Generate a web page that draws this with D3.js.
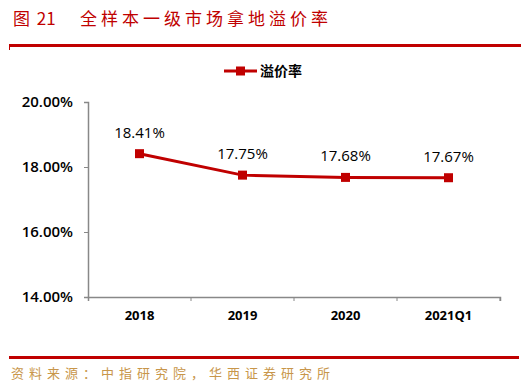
<!DOCTYPE html>
<html><head><meta charset="utf-8">
<script src="https://cdn.jsdelivr.net/npm/d3@7"></script>
<style>body{margin:0;background:#fff}svg{display:block}</style>
</head><body><svg id="c" width="521" height="385"></svg>
<script>
const categories = ["2018","2019","2020","2021Q1"];
const premiumRate = [18.41, 17.75, 17.68, 17.67];
const yTicks = [14, 16, 18, 20];
const seriesName = "溢价率";
const titleNum = "图 21";
const titleText = "全样本一级市场拿地溢价率";
const sourceText = "资料来源：中指研究院，华西证券研究所";

const svg = d3.select("#c");
const red = "#c00000";
const m = {l:88, r:500, t:102, b:297};
const x = d3.scaleBand().domain(categories).range([m.l, m.r]);
const y = d3.scaleLinear().domain([14,20]).range([m.b, m.t]);

// title
svg.append("text").attr("x",13).attr("y",25).attr("fill",red)
  .style("font-family","'Noto Sans CJK SC', sans-serif").style("font-size","17px").style("word-spacing","3px").text(titleNum);
svg.append("text").attr("x",80).attr("y",25).attr("fill",red)
  .style("font-family","'Noto Sans CJK SC', sans-serif").style("font-size","17px").style("letter-spacing","4px").text(titleText);
svg.append("rect").attr("x",9).attr("y",44).attr("width",512).attr("height",3).attr("fill",red);
svg.append("rect").attr("x",9).attr("y",44).attr("width",1).attr("height",6).attr("fill",red);

// axes
const yAxis = svg.append("g").attr("transform",`translate(${m.l},0)`)
  .call(d3.axisLeft(y).tickValues(yTicks).tickSize(4).tickFormat(d=>d3.format(".2f")(d)+"%"));
const xAxis = svg.append("g").attr("transform",`translate(0,${m.b})`)
  .call(d3.axisBottom(x).tickSize(4).tickSizeOuter(4));
xAxis.selectAll(".tick line").remove();
x.domain().forEach(d=>{
  xAxis.append("line").attr("x1",x(d)+x.bandwidth()).attr("x2",x(d)+x.bandwidth()).attr("y1",0).attr("y2",4).attr("stroke","#888");
});
[yAxis, xAxis].forEach(g=>{
  g.select(".domain").attr("stroke","#888").attr("stroke-width",1.5);
  g.selectAll("line").attr("stroke","#888");
  g.selectAll("text").attr("fill","#000").style("font-family","'Open Sans', 'DejaVu Sans', sans-serif");
});
yAxis.selectAll("text").style("font-size","15px").style("font-weight","600").attr("x",-15);
xAxis.selectAll("text").style("font-size","13px").style("font-weight","700").attr("y",14);

// line
const line = d3.line().x((d,i)=>x(categories[i])+x.bandwidth()/2).y(d=>y(d));
svg.append("path").datum(premiumRate).attr("d",line).attr("fill","none").attr("stroke",red).attr("stroke-width",3);
svg.selectAll(".mk").data(premiumRate).join("rect")
  .attr("x",(d,i)=>x(categories[i])+x.bandwidth()/2-4.5).attr("y",d=>y(d)-4.5)
  .attr("width",9).attr("height",9).attr("fill",red);
svg.selectAll(".lb").data(premiumRate).join("text")
  .attr("x",(d,i)=>x(categories[i])+x.bandwidth()/2).attr("y",d=>y(d)-16)
  .attr("text-anchor","middle").attr("fill","#000")
  .style("font-family","'Open Sans', 'DejaVu Sans', sans-serif").style("font-size","15px")
  .text(d=>d.toFixed(2)+"%");

// legend
svg.append("line").attr("x1",224).attr("x2",257).attr("y1",71).attr("y2",71).attr("stroke",red).attr("stroke-width",3);
svg.append("rect").attr("x",236).attr("y",66.5).attr("width",9).attr("height",9).attr("fill",red);
svg.append("text").attr("x",260).attr("y",76).attr("fill","#000")
  .style("font-family","'Noto Sans CJK SC', sans-serif").style("font-size","14px").style("font-weight","700").text(seriesName);

// footer
svg.append("rect").attr("x",9).attr("y",356).attr("width",510).attr("height",3).attr("fill",red);
svg.append("text").attr("x",11).attr("y",378).attr("fill","#c8964a")
  .style("font-family","'Noto Sans CJK SC', sans-serif").style("font-size","13px").style("letter-spacing","5px").text(sourceText);
</script></body></html>
